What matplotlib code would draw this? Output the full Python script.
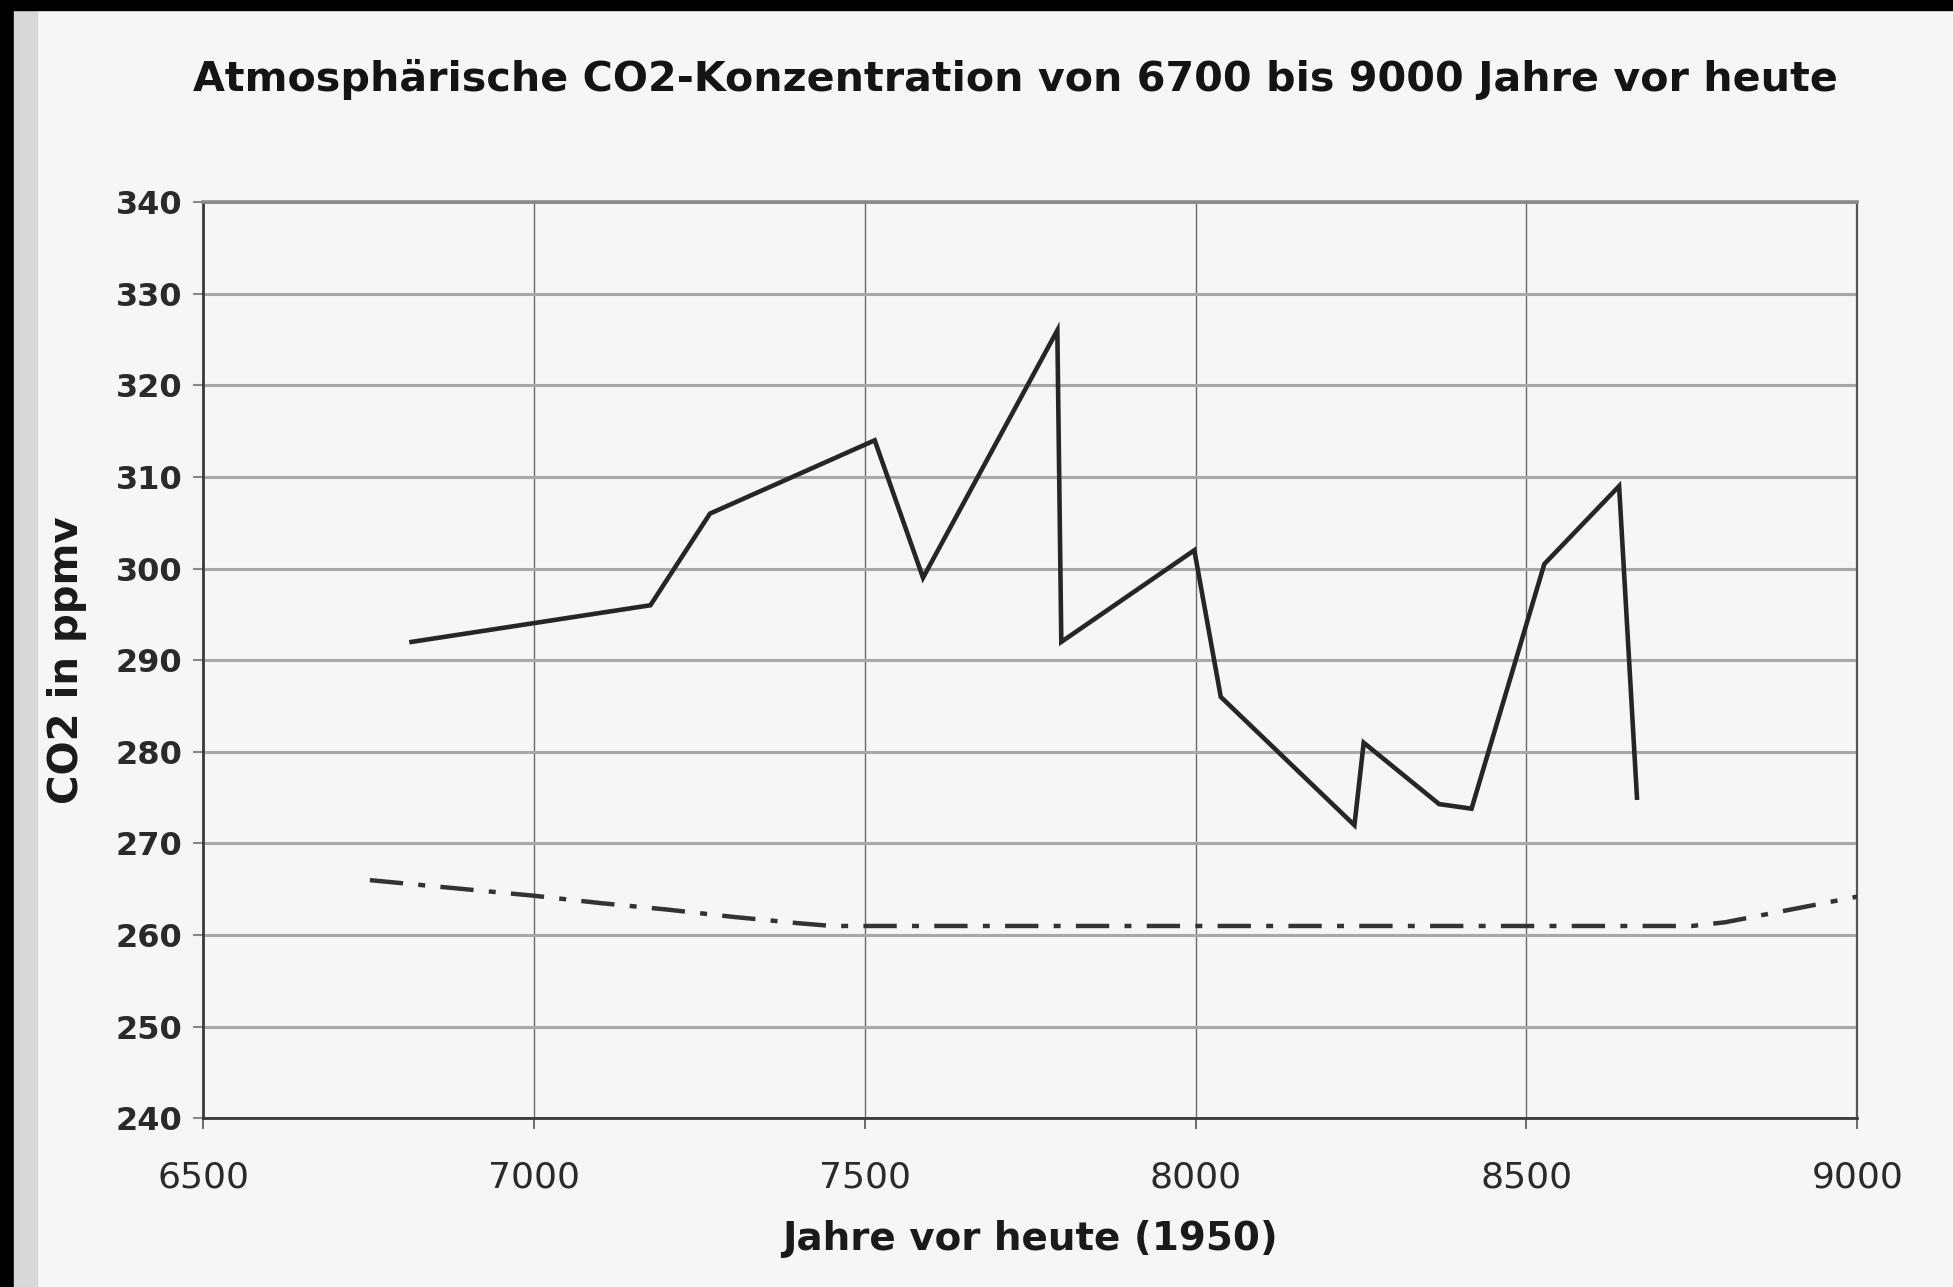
import matplotlib
matplotlib.use("Agg")
import matplotlib.pyplot as plt
from matplotlib.patches import Rectangle

# Measured CO2 (solid line): years before present (1950) and ppmv
years_meas = [6815, 7176, 7266, 7515, 7588, 7791, 7797, 7998, 8038, 8240, 8254,
              8368, 8417, 8527, 8640, 8667]
co2_meas = [292.0, 296.0, 306.0, 314.0, 299.0, 326.0, 292.0, 302.0, 286.0, 272.0, 281.0,
            274.3, 273.8, 300.5, 309.0, 275.0]

# Reference curve (dash-dot line)
years_ref = [6752, 7000, 7100, 7200, 7300, 7400, 7450, 7600, 8000, 8400, 8750,
             8800, 8850, 8900, 8950, 9000]
co2_ref = [266.0, 264.3, 263.5, 262.8, 262.0, 261.3, 261.0, 261.0, 261.0, 261.0, 261.0,
           261.4, 262.1, 262.8, 263.5, 264.2]

x_ticks = [6500, 7000, 7500, 8000, 8500, 9000]
y_ticks = list(range(240, 341, 10))

plt.rcParams['font.family'] = ['DejaVu Sans']
plt.rcParams['lines.scale_dashes'] = False

paper = '#f6f6f6'
fig = plt.figure(figsize=(19.53, 12.87), dpi=100, facecolor=paper)
ax = fig.add_axes([0.104, 0.131, 0.847, 0.712], facecolor=paper)

# scan edges
fig.patches.append(Rectangle((0, 0), 0.007, 1, transform=fig.transFigure,
                             color='black', zorder=0))
fig.patches.append(Rectangle((0.007, 0), 0.012, 1, transform=fig.transFigure,
                             color='#d8d8d8', zorder=0))
fig.patches.append(Rectangle((0, 0.992), 1, 0.008, transform=fig.transFigure,
                             color='black', zorder=0))

ax.plot(years_meas, co2_meas, color='#262626', lw=3.3, solid_joinstyle='miter', zorder=3)
ax.plot(years_ref, co2_ref, color='#333333', lw=3.2,
        linestyle=(0, (24, 11, 5, 11)), dash_capstyle='butt', zorder=3)

ax.set_xlim(6500, 9000)
ax.set_ylim(240, 340)
ax.set_xticks(x_ticks)
ax.set_yticks(y_ticks)

ax.yaxis.grid(True, color='#a8a8a8', lw=2.2)
ax.xaxis.grid(True, color='#6a6a6a', lw=1.0)
ax.set_axisbelow(True)

for side in ['left', 'bottom']:
    ax.spines[side].set_color('#3a3a3a')
    ax.spines[side].set_linewidth(2.0)
ax.spines['top'].set_color('#8a8a8a')
ax.spines['top'].set_linewidth(2.6)
ax.spines['right'].set_color('#555555')
ax.spines['right'].set_linewidth(1.6)

ax.tick_params(axis='x', direction='out', length=8, width=1.2, color='#555555',
               pad=22, labelsize=26, labelcolor='#2a2a2a')
ax.tick_params(axis='y', direction='out', length=7, width=1.5, color='#888888',
               pad=8, labelsize=23, labelcolor='#2a2a2a')
for lbl in ax.get_yticklabels():
    lbl.set_fontweight('bold')

ax.set_xlabel("Jahre vor heute (1950)", fontsize=28, fontweight='bold',
              color='#1a1a1a', labelpad=19)
ax.set_ylabel("CO2 in ppmv", fontsize=29, fontweight='bold', color='#1a1a1a')
ax.yaxis.set_label_coords(-0.07, 0.5)

fig.text(0.52, 0.938, "Atmosphärische CO2-Konzentration von 6700 bis 9000 Jahre vor heute",
         ha='center', va='center', fontsize=29.7, fontweight='bold', color='#141414')

fig.savefig("out.png", dpi=100, facecolor=paper)
